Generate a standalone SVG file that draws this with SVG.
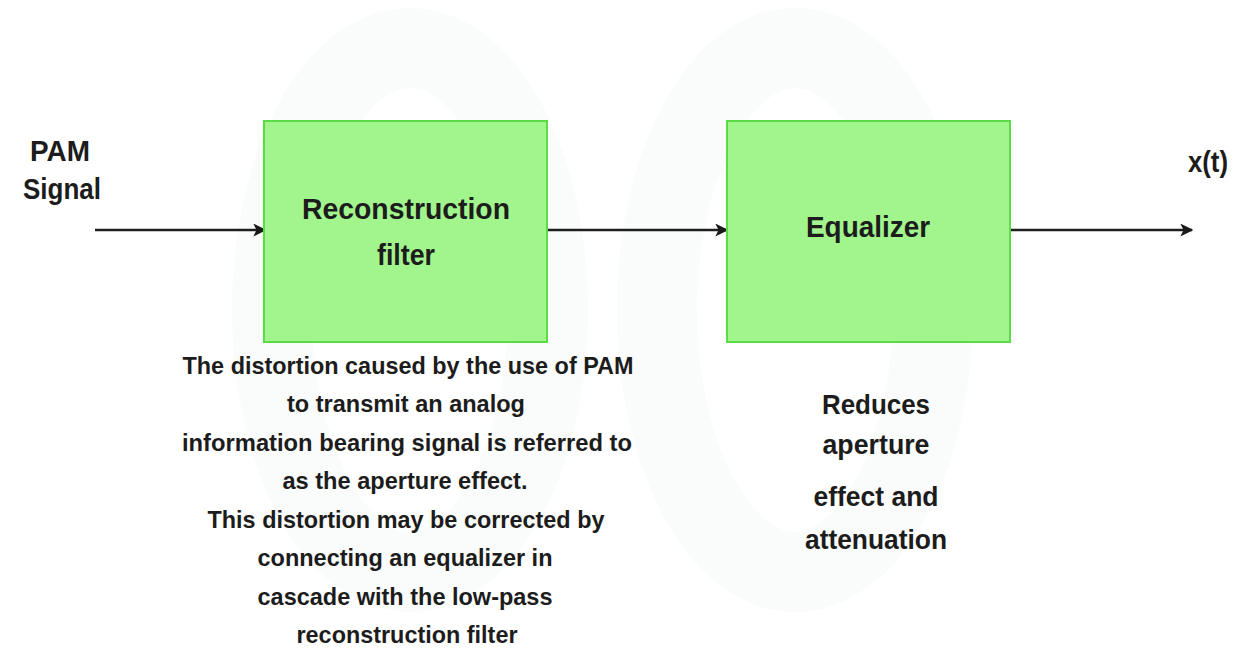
<svg xmlns="http://www.w3.org/2000/svg" width="1241" height="649" viewBox="0 0 1241 649">
  <defs>
    <marker id="arrow" viewBox="0 0 10 10" refX="9" refY="5" markerWidth="13" markerHeight="13" markerUnits="userSpaceOnUse" orient="auto">
      <path d="M0,0 L10,5 L0,10 L2.5,5 Z" fill="#1a1a1a"/>
    </marker>
    <style>
      .box { fill: #a1f58c; stroke: #5bdc46; stroke-width: 2; }
      .lbl { font-family: "Liberation Sans", Arial, sans-serif; font-weight: bold; fill: #1c1c1c; text-anchor: middle; }
      .big { font-size: 30px; }
      .mid { font-size: 28px; }
      .small { font-size: 24px; }
      .wire { stroke: #1e1e1e; stroke-width: 2.4; fill: none; marker-end: url(#arrow); }
      .wm { fill: none; stroke: #fafbfb; stroke-width: 80; }
    </style>
  </defs>
  <rect width="1241" height="649" fill="#ffffff"/>
  <g id="watermark">
    <ellipse class="wm" cx="410" cy="310" rx="138" ry="262"/>
    <ellipse class="wm" cx="795" cy="310" rx="138" ry="262"/>
  </g>
  <g id="connectors">
    <line class="wire" x1="95" y1="230" x2="265" y2="230"/>
    <line class="wire" x1="548" y1="230" x2="727" y2="230"/>
    <line class="wire" x1="1011" y1="230" x2="1192" y2="230"/>
  </g>
  <g id="input">
    <text class="lbl big" x="60" y="161" textLength="60" lengthAdjust="spacingAndGlyphs">PAM</text>
    <text class="lbl big" x="62" y="199" textLength="78" lengthAdjust="spacingAndGlyphs">Signal</text>
  </g>
  <g id="reconstruction-filter">
    <rect class="box" x="264" y="121" width="283" height="221"/>
    <text class="lbl big" x="406" y="219" textLength="208" lengthAdjust="spacingAndGlyphs">Reconstruction</text>
    <text class="lbl big" x="406" y="265" textLength="58" lengthAdjust="spacingAndGlyphs">filter</text>
  </g>
  <g id="equalizer">
    <rect class="box" x="727" y="121" width="283" height="221"/>
    <text class="lbl big" x="868" y="237" textLength="124" lengthAdjust="spacingAndGlyphs">Equalizer</text>
  </g>
  <g id="output">
    <text class="lbl big" x="1208" y="172" textLength="40" lengthAdjust="spacingAndGlyphs">x(t)</text>
  </g>
  <g id="filter-note">
    <text class="lbl small" x="408" y="374" textLength="451" lengthAdjust="spacingAndGlyphs">The distortion caused by the use of PAM</text>
    <text class="lbl small" x="406" y="412" textLength="238" lengthAdjust="spacingAndGlyphs">to transmit an analog</text>
    <text class="lbl small" x="407" y="451" textLength="450" lengthAdjust="spacingAndGlyphs">information bearing signal is referred to</text>
    <text class="lbl small" x="405" y="489" textLength="245" lengthAdjust="spacingAndGlyphs">as the aperture effect.</text>
    <text class="lbl small" x="406" y="528" textLength="397" lengthAdjust="spacingAndGlyphs">This distortion may be corrected by</text>
    <text class="lbl small" x="405" y="566" textLength="295" lengthAdjust="spacingAndGlyphs">connecting an equalizer in</text>
    <text class="lbl small" x="405" y="605" textLength="295" lengthAdjust="spacingAndGlyphs">cascade with the low-pass</text>
    <text class="lbl small" x="407" y="643" textLength="221" lengthAdjust="spacingAndGlyphs">reconstruction filter</text>
  </g>
  <g id="equalizer-note">
    <text class="lbl mid" x="876" y="414" textLength="108" lengthAdjust="spacingAndGlyphs">Reduces</text>
    <text class="lbl mid" x="876" y="454" textLength="107" lengthAdjust="spacingAndGlyphs">aperture</text>
    <text class="lbl mid" x="876" y="506" textLength="125" lengthAdjust="spacingAndGlyphs">effect and</text>
    <text class="lbl mid" x="876" y="549" textLength="142" lengthAdjust="spacingAndGlyphs">attenuation</text>
  </g>
</svg>
